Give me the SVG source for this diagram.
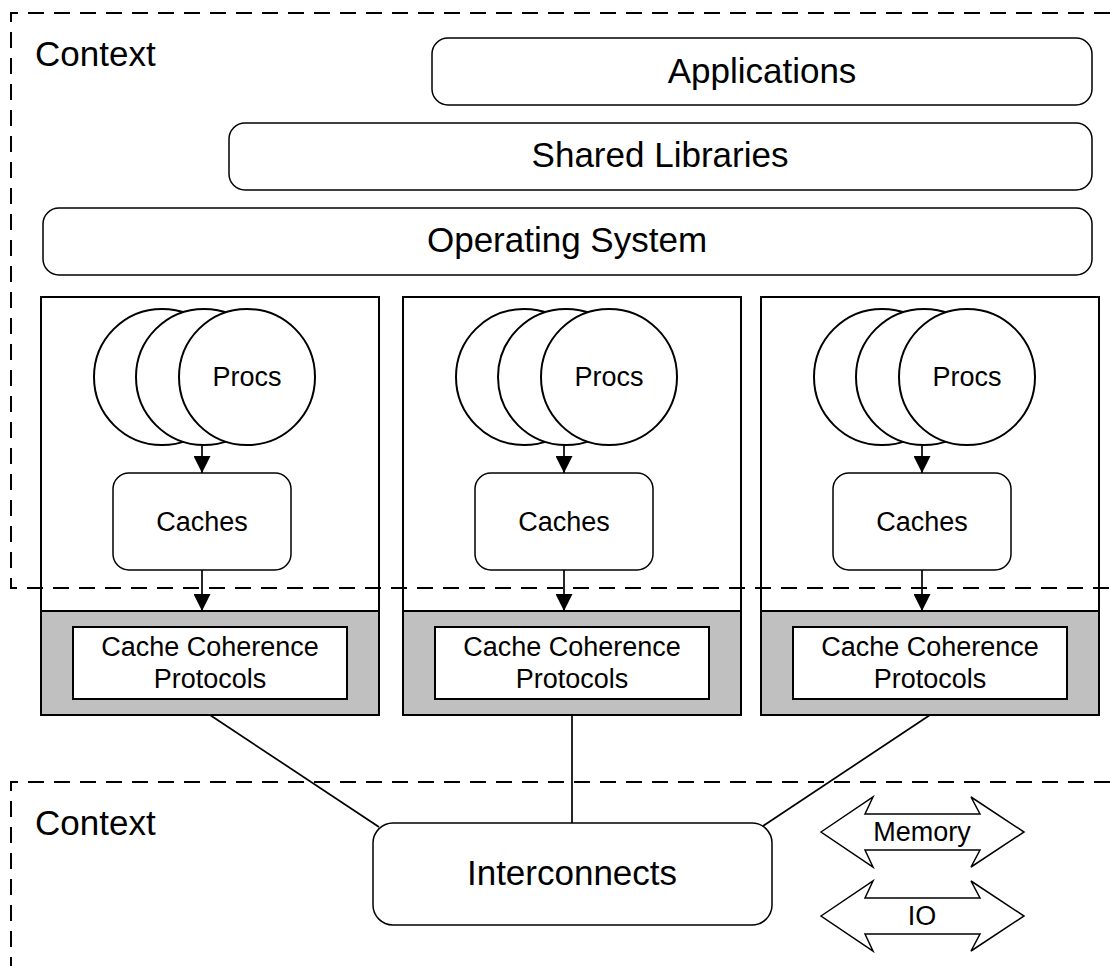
<svg xmlns="http://www.w3.org/2000/svg" width="1110" height="966" viewBox="0 0 1110 966">
<defs>
<marker id="ah" markerWidth="17" markerHeight="17" refX="17" refY="8.5" orient="auto" markerUnits="userSpaceOnUse">
<path d="M0,0 L17,8.5 L0,17 Z" fill="#000"/>
</marker>
<style>
text{fill:#000;text-anchor:middle}
.big{font-size:35px}
.mid{font-size:27px}
.ctx{text-anchor:start}
.rr{fill:#fff;stroke:#000;stroke-width:1.5}
.col{fill:#fff;stroke:#000;stroke-width:2}
.gray{fill:#c0c0c0;stroke:#000;stroke-width:2}
.inner{fill:#fff;stroke:#000;stroke-width:2}
.circ{fill:#fff;stroke:#000;stroke-width:2}
.dash{fill:none;stroke:#000;stroke-width:2;stroke-dasharray:16 10}
.ln{fill:none;stroke:#000;stroke-width:1.7}
.arr{fill:none;stroke:#000;stroke-width:1.7;marker-end:url(#ah)}
.dbl{fill:#fff;stroke:#000;stroke-width:1.5}
</style>
</defs>
<g font-family="'Liberation Sans', Arial, Helvetica, sans-serif">

<g id="applications">
<rect class="rr" x="432" y="38" width="660" height="67" rx="16"/>
<text class="big" x="762" y="83">Applications</text>
</g>
<g id="shared-libraries">
<rect class="rr" x="229" y="123" width="863" height="67" rx="16"/>
<text class="big" x="660" y="167">Shared Libraries</text>
</g>
<g id="operating-system">
<rect class="rr" x="43" y="208" width="1049" height="67" rx="16"/>
<text class="big" x="567" y="252">Operating System</text>
</g>

<g id="node1">
<rect class="col" x="41" y="297" width="338" height="314"/>
<rect class="gray" x="41" y="611" width="338" height="104"/>
<rect class="inner" x="73" y="627" width="274" height="72"/>
<text class="mid" x="210" y="656">Cache Coherence</text>
<text class="mid" x="210" y="688">Protocols</text>
<circle class="circ" cx="162" cy="377" r="68"/>
<circle class="circ" cx="204" cy="377" r="68"/>
<circle class="circ" cx="247" cy="377" r="68"/>
<text class="mid" x="247" y="386">Procs</text>
<rect class="rr" x="113" y="473" width="178" height="97" rx="16"/>
<text class="mid" x="202" y="531">Caches</text>
</g>

<g id="node2">
<rect class="col" x="403" y="297" width="338" height="314"/>
<rect class="gray" x="403" y="611" width="338" height="104"/>
<rect class="inner" x="435" y="627" width="274" height="72"/>
<text class="mid" x="572" y="656">Cache Coherence</text>
<text class="mid" x="572" y="688">Protocols</text>
<circle class="circ" cx="524" cy="377" r="68"/>
<circle class="circ" cx="566" cy="377" r="68"/>
<circle class="circ" cx="609" cy="377" r="68"/>
<text class="mid" x="609" y="386">Procs</text>
<rect class="rr" x="475" y="473" width="178" height="97" rx="16"/>
<text class="mid" x="564" y="531">Caches</text>
</g>

<g id="node3">
<rect class="col" x="761" y="297" width="338" height="314"/>
<rect class="gray" x="761" y="611" width="338" height="104"/>
<rect class="inner" x="793" y="627" width="274" height="72"/>
<text class="mid" x="930" y="656">Cache Coherence</text>
<text class="mid" x="930" y="688">Protocols</text>
<circle class="circ" cx="882" cy="377" r="68"/>
<circle class="circ" cx="924" cy="377" r="68"/>
<circle class="circ" cx="967" cy="377" r="68"/>
<text class="mid" x="967" y="386">Procs</text>
<rect class="rr" x="833" y="473" width="178" height="97" rx="16"/>
<text class="mid" x="922" y="531">Caches</text>
</g>

<g id="interconnects">
<rect class="rr" x="373" y="823" width="399" height="102" rx="20"/>
<text class="big" x="572" y="885">Interconnects</text>
</g>

<g id="memory">
<polygon class="dbl" points="821,832 873,797 865,814 980,814 971,797 1024,832 971,867 980,850 865,850 873,867"/>
<text class="mid" x="922" y="841">Memory</text>
</g>
<g id="io">
<polygon class="dbl" points="821,916 873,881 865,898 980,898 971,881 1024,916 971,951 980,934 865,934 873,951"/>
<text class="mid" x="922" y="925">IO</text>
</g>

<g id="connectors">
<line class="arr" x1="202" y1="445" x2="202" y2="473"/>
<line class="arr" x1="202" y1="570" x2="202" y2="611"/>
<line class="arr" x1="564" y1="445" x2="564" y2="473"/>
<line class="arr" x1="564" y1="570" x2="564" y2="611"/>
<line class="arr" x1="922" y1="445" x2="922" y2="473"/>
<line class="arr" x1="922" y1="570" x2="922" y2="611"/>
<line class="ln" x1="210" y1="715" x2="379" y2="827"/>
<line class="ln" x1="572" y1="715" x2="572" y2="823"/>
<line class="ln" x1="930" y1="715" x2="763" y2="826"/>
</g>

<g id="context-top">
<path class="dash" d="M1110,13 H11 V588 H1110"/>
<text class="big ctx" x="35" y="66">Context</text>
</g>
<g id="context-bottom">
<path class="dash" d="M1110,782 H11 V966"/>
<text class="big ctx" x="35" y="835">Context</text>
</g>
</g>
</svg>
